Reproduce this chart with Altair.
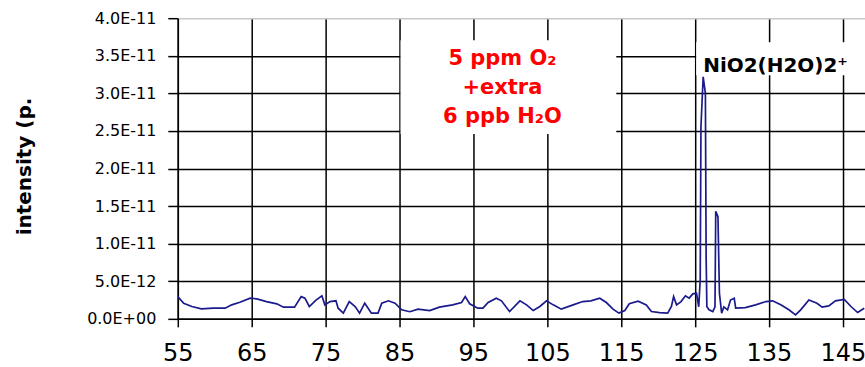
import altair as alt
import pandas as pd

# m/z values
mass = [55.0, 55.8, 56.9, 58.2, 59.8, 61.4, 62.3, 63.4, 64.8, 65.7, 67.0, 68.4, 69.3, 70.8,
        71.7, 72.2, 72.8, 73.7, 74.5, 74.9, 75.6, 76.4, 76.7, 77.4, 78.2, 79.0, 79.6, 80.3,
        81.2, 82.1, 82.6, 83.5, 84.4, 85.3, 86.4, 87.5, 89.1, 90.4, 92.2, 93.4, 93.9, 94.5,
        95.6, 96.3, 97.0, 98.1, 98.8, 99.9, 101.3, 102.2, 103.1, 104.0, 104.9, 105.8, 106.9,
        108.5, 109.8, 110.9, 112.1, 113.0, 113.9, 114.7, 115.5, 116.1, 117.3, 118.4, 119.1,
        120.2, 121.3, 121.8, 122.1, 122.5, 123.1, 123.7, 124.2, 124.7, 125.2, 125.5, 125.7,
        125.8, 126.1, 126.4, 126.5, 126.6, 126.9, 127.4, 127.7, 127.8, 128.1, 128.3, 128.6,
        128.9, 129.4, 129.8, 130.3, 130.5, 131.8, 133.2, 134.6, 135.5, 136.6, 137.7, 138.6,
        139.3, 140.4, 141.5, 142.2, 143.1, 144.0, 145.2, 146.1, 147.0, 147.9]

# intensity in units of 1E-12
intensity_e12 = [2.96, 2.08, 1.64, 1.33, 1.42, 1.42, 1.86, 2.2, 2.75, 2.66, 2.3, 2.0, 1.55, 1.55,
                 2.96, 2.75, 1.64, 2.5, 3.06, 1.86, 2.3, 2.4, 1.42, 0.76, 2.3, 1.64, 0.76, 2.08,
                 0.76, 0.76, 2.08, 2.4, 2.08, 1.2, 0.95, 1.29, 1.1, 1.55, 1.86, 2.17, 2.96, 2.0,
                 1.42, 1.42, 2.17, 2.75, 2.4, 0.97, 2.4, 1.86, 1.1, 1.64, 2.39, 1.86, 1.29,
                 1.86, 2.3, 2.4, 2.75, 2.17, 1.29, 0.76, 1.1, 2.0, 2.35, 1.86, 0.97,
                 0.84, 0.76, 1.64, 2.96, 1.86, 2.3, 3.06, 2.75, 3.32, 3.4, 1.6, 5.2,
                 25.6, 32.2, 30.0, 8.3, 1.6, 1.2, 0.97, 1.6, 14.3, 13.6, 3.4, 0.76,
                 1.6, 1.2, 2.5, 2.75, 1.42, 1.5, 1.86, 2.3, 2.4, 1.86, 1.2, 0.53,
                 1.2, 2.5, 2.08, 1.55, 1.73, 2.4, 2.6, 1.64, 0.84, 1.42]

x_ticks = [55, 65, 75, 85, 95, 105, 115, 125, 135, 145]
y_ticks = [0, 5e-12, 1e-11, 1.5e-11, 2e-11, 2.5e-11, 3e-11, 3.5e-11, 4e-11]
y_tick_labels = ["0.0E+00", "5.0E-12", "1.0E-11", "1.5E-11", "2.0E-11",
                 "2.5E-11", "3.0E-11", "3.5E-11", "4.0E-11"]

condition_lines = ["5 ppm O₂", "+extra", "6 ppb H₂O"]
peak_label = "NiO2(H2O)2⁺"
y_title = "intensity (p."

df = pd.DataFrame({"mz": mass, "intensity": [v * 1e-12 for v in intensity_e12]})
one = pd.DataFrame({"k": [0]})

label_expr = "[" + ",".join(f"'{s}'" for s in y_tick_labels) + "][round(datum.value / 5e-12)]"

line = alt.Chart(df).mark_line(color="#1a1a8c", strokeWidth=1.7, clip=True).encode(
    x=alt.X("mz:Q",
            scale=alt.Scale(domain=[55, 148], nice=False, zero=False),
            axis=alt.Axis(values=x_ticks, title=None, labelFont="DejaVu Sans",
                          labelFontSize=24, labelPadding=15, tickSize=8,
                          labelFlush=False, labelOverlap=False)),
    y=alt.Y("intensity:Q",
            scale=alt.Scale(domain=[0, 4e-11], nice=False),
            axis=alt.Axis(values=y_ticks, labelExpr=label_expr, labelFont="DejaVu Sans",
                          labelFontSize=16, labelPadding=12, tickSize=10,
                          labelFlush=False, labelOverlap=False,
                          gridColor={"condition": {"test": "datum.value > 3.9e-11",
                                                   "value": "#c8c8c8"},
                                     "value": "black"},
                          title=y_title, titleFont="DejaVu Sans", titleFontWeight="bold",
                          titleFontSize=20, titleX=-143, titleY=148, titleAngle=270,
                          titleAlign="center", titleBaseline="bottom")),
)

box_red = alt.Chart(one).mark_rect(color="white").encode(
    x=alt.value(223), x2=alt.value(439), y=alt.value(22), y2=alt.value(116))
box_peak = alt.Chart(one).mark_rect(color="white").encode(
    x=alt.value(519), x2=alt.value(700), y=alt.value(24), y2=alt.value(57))

red_texts = [
    alt.Chart(one).mark_text(text=t, font="DejaVu Sans", fontWeight="bold", fontSize=21,
                             color="#ff0000", align="center", baseline="alphabetic")
    .encode(x=alt.value(325), y=alt.value(yy))
    for t, yy in zip(condition_lines, [47, 76, 105])
]

peak_text = alt.Chart(one).mark_text(text=peak_label, font="DejaVu Sans", fontWeight="bold",
                                     fontSize=20, color="black", align="left",
                                     baseline="alphabetic").encode(
    x=alt.value(526), y=alt.value(54))

chart = alt.layer(box_red, box_peak, line, *red_texts, peak_text).properties(
    width=688, height=301,
    padding={"left": 178, "top": 18, "right": 0, "bottom": 48},
    autosize=alt.AutoSizeParams(type="none"),
    background="white",
).configure_axis(
    domainColor="black", domainWidth=1.5, gridColor="black", gridWidth=1.5,
    tickColor="black", tickWidth=1.5, labelColor="black", titleColor="black",
).configure_view(strokeWidth=0)

chart.save("out.html", embed_options={"renderer": "svg", "actions": False})
